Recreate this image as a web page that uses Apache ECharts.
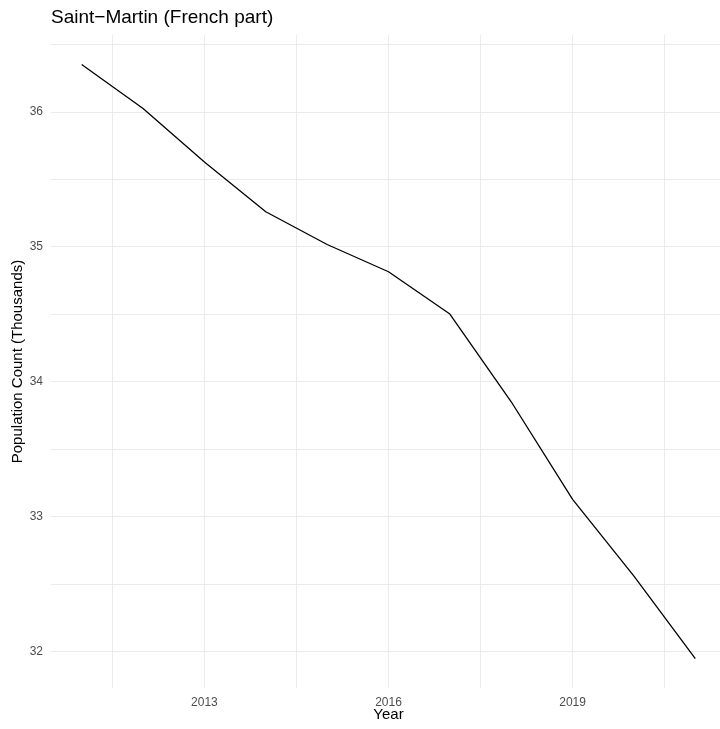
<!DOCTYPE html>
<html>
<head>
<meta charset="utf-8">
<script src="https://cdn.jsdelivr.net/npm/echarts@6/dist/echarts.min.js"></script>
<style>
html,body{margin:0;padding:0;background:#fff;}
#chart{width:720px;height:729px;}
</style>
</head>
<body>
<div id="chart"></div>
<script>
const years = [2011, 2012, 2013, 2014, 2015, 2016, 2017, 2018, 2019, 2020, 2021];
const population = [36.351, 36.024, 35.627, 35.259, 35.016, 34.814, 34.50, 33.85, 33.127, 32.558, 31.945];
const xTickLabels = [2013, 2016, 2019];
const xGridValues = [2011.5, 2013, 2014.5, 2016, 2017.5, 2019, 2020.5];
const yTickLabels = [32, 33, 34, 35, 36];
const yGridValues = [32, 32.5, 33, 33.5, 34, 34.5, 35, 35.5, 36, 36.5];

const FONT = 'Liberation Sans, Arial, sans-serif';
const chart = echarts.init(document.getElementById('chart'), null, {renderer: 'canvas'});
chart.setOption({
  backgroundColor: '#ffffff',
  animation: false,
  title: {
    text: 'Saint\u2212Martin (French part)',
    left: 46, top: 3,
    textStyle: {fontFamily: FONT, fontSize: 19, fontWeight: 'normal', color: '#000'}
  },
  grid: {left: 51, right: -6, top: 35, bottom: 41, containLabel: false, outerBoundsMode: 'none'},
  xAxis: {
    type: 'value',
    min: 2010.5, max: 2021.5,
    name: 'Year', nameLocation: 'middle', nameGap: 19, nameMoveOverlap: false,
    nameTextStyle: {fontFamily: FONT, fontSize: 15, color: '#000', verticalAlign: 'top'},
    axisLine: {show: false},
    axisTick: {show: false, customValues: xGridValues},
    axisLabel: {customValues: xTickLabels, fontFamily: FONT, fontSize: 12, color: '#4d4d4d', margin: 9,
      formatter: v => String(v)},
    splitLine: {show: true, lineStyle: {color: '#ebebeb', width: 1}}
  },
  yAxis: {
    type: 'value',
    min: 31.728, max: 36.569,
    name: 'Population Count (Thousands)', nameLocation: 'middle', nameGap: 26, nameMoveOverlap: false,
    nameTextStyle: {fontFamily: FONT, fontSize: 15, color: '#000'},
    axisLine: {show: false},
    axisTick: {show: false, customValues: yGridValues},
    axisLabel: {customValues: yTickLabels, fontFamily: FONT, fontSize: 12, color: '#4d4d4d', margin: 8,
      formatter: v => String(v)},
    splitLine: {show: true, lineStyle: {color: '#ebebeb', width: 1}}
  },
  series: [{
    type: 'line',
    data: years.map((y, i) => [y, population[i]]),
    showSymbol: false,
    lineStyle: {color: '#000', width: 1.3},
    silent: true
  }]
});
</script>
</body>
</html>
